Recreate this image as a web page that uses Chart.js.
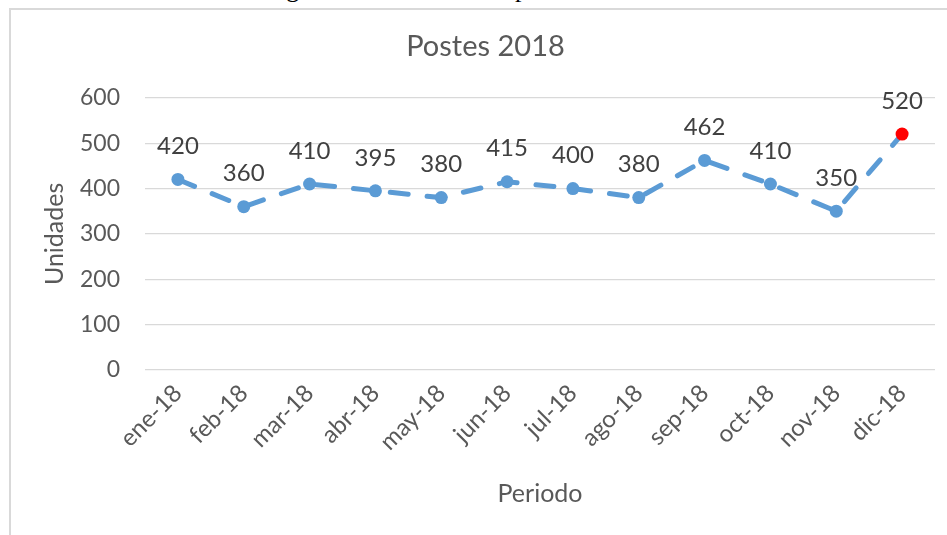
<!DOCTYPE html>
<html>
<head>
<meta charset="utf-8">
<script src="https://cdn.jsdelivr.net/npm/chart.js@4.4.1/dist/chart.umd.min.js"></script>
<style>
  html, body { margin: 0; padding: 0; background: #fff; overflow: hidden; }
  #wrap { position: relative; width: 947px; height: 535px; }
  #caption {
    position: absolute; left: 0; width: 947px; top: -26px; text-align: center;
    font-family: "Liberation Serif", serif; font-size: 26px; color: #000; white-space: nowrap;
  }
  #marco {
    position: absolute; left: 9px; top: 8px; width: 1000px; height: 600px;
    border-left: 2px solid #d9d9d9; border-top: 2px solid #d9d9d9;
  }
  #grafico { position: absolute; left: 0; top: 0; }
</style>
</head>
<body>
<div id="wrap">
  <div id="caption">Figura 11: Demanda de postes año 2018</div>
  <div id="marco"></div>
  <canvas id="grafico" width="947" height="535"></canvas>
</div>
<script>
// Demanda mensual de postes, 2018
const meses = ['ene-18', 'feb-18', 'mar-18', 'abr-18', 'may-18', 'jun-18',
               'jul-18', 'ago-18', 'sep-18', 'oct-18', 'nov-18', 'dic-18'];
const unidades = [420, 360, 410, 395, 380, 415, 400, 380, 462, 410, 350, 520];
const ejeY = { min: 0, max: 600, paso: 100 };

const azul = '#5b9bd5';
const rojo = '#ff0000';
const gris = '#595959';
const fuente = 'Lato, "Liberation Sans", sans-serif';

// Etiquetas de valor encima de cada punto
const etiquetas = {
  id: 'etiquetas',
  afterDatasetsDraw(chart) {
    const ctx = chart.ctx;
    const meta = chart.getDatasetMeta(0);
    ctx.save();
    ctx.font = '24px ' + fuente;
    ctx.fillStyle = '#404040';
    ctx.textAlign = 'center';
    ctx.textBaseline = 'middle';
    meta.data.forEach((p, i) => {
      ctx.fillText(String(chart.data.datasets[0].data[i]), p.x, p.y - 33);
    });
    ctx.restore();
  }
};

const ultimo = unidades.length - 1;

new Chart(document.getElementById('grafico').getContext('2d'), {
  type: 'line',
  data: {
    labels: meses,
    datasets: [{
      label: 'Postes',
      data: unidades,
      borderColor: azul,
      borderWidth: 5,
      borderDash: [18, 19],
      borderCapStyle: 'round',
      tension: 0,
      pointRadius: 6.5,
      pointHoverRadius: 6.5,
      pointBorderWidth: 0,
      pointBackgroundColor: unidades.map((v, i) => i === ultimo ? rojo : azul),
      pointBorderColor: unidades.map((v, i) => i === ultimo ? rojo : azul)
    }]
  },
  options: {
    responsive: false,
    animation: false,
    layout: { padding: { left: 36, right: 12, top: 0, bottom: 0 } },
    plugins: {
      legend: { display: false },
      tooltip: { enabled: false },
      title: {
        display: true,
        text: 'Postes 2018',
        color: gris,
        font: { family: fuente, size: 29, weight: 'normal' },
        padding: { top: 29, bottom: 34 }
      }
    },
    scales: {
      x: {
        offset: true,
        grid: { display: false, drawTicks: false },
        border: { display: false },
        ticks: {
          color: gris,
          font: { family: fuente, size: 24 },
          minRotation: 45,
          maxRotation: 45,
          padding: 9
        },
        title: {
          display: true,
          text: 'Periodo',
          color: gris,
          font: { family: fuente, size: 25 },
          padding: { top: 26, bottom: 26 }
        },
        afterFit(scale) { scale.height = 165; }
      },
      y: {
        min: ejeY.min,
        max: ejeY.max,
        ticks: {
          stepSize: ejeY.paso,
          color: gris,
          font: { family: fuente, size: 23 },
          padding: 25
        },
        grid: { color: '#d9d9d9', lineWidth: 1.3, drawTicks: false },
        border: { display: false },
        title: {
          display: true,
          text: 'Unidades',
          color: gris,
          font: { family: fuente, size: 25 },
          padding: { top: 4, bottom: 0 }
        },
        afterFit(scale) { scale.width = 109; }
      }
    }
  },
  plugins: [etiquetas]
});
</script>
</body>
</html>
